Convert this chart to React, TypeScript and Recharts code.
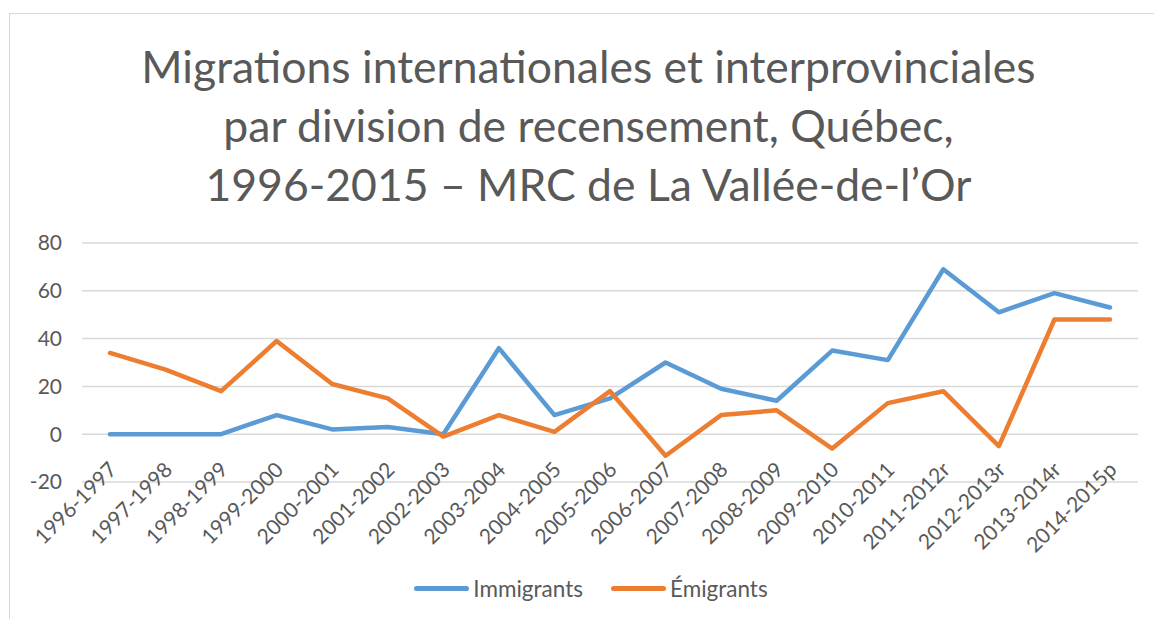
import React from "react";
import { LineChart, Line, XAxis, YAxis, CartesianGrid } from "recharts";

const PERIODS = [
  "1996-1997", "1997-1998", "1998-1999", "1999-2000", "2000-2001", "2001-2002",
  "2002-2003", "2003-2004", "2004-2005", "2005-2006", "2006-2007", "2007-2008",
  "2008-2009", "2009-2010", "2010-2011", "2011-2012r", "2012-2013r", "2013-2014r",
  "2014-2015p",
];
const IMMIGRANTS = [0, 0, 0, 8, 2, 3, 0, 36, 8, 15, 30, 19, 14, 35, 31, 69, 51, 59, 53];
const EMIGRANTS = [34, 27, 18, 39, 21, 15, -1, 8, 1, 18, -9, 8, 10, -6, 13, 18, -5, 48, 48];
const Y_TICKS = [-20, 0, 20, 40, 60, 80];
const TITLE_LINES = [
  "Migrations internationales et interprovinciales",
  "par division de recensement, Québec,",
  "1996-2015 – MRC de La Vallée-de-l’Or",
];

const BLUE = "#5B9BD5";
const ORANGE = "#ED7D31";
const TEXT = "#595959";
const FONT = "Lato, 'Open Sans', sans-serif";

const data = PERIODS.map((p, i) => ({ period: p, imm: IMMIGRANTS[i], emi: EMIGRANTS[i] }));

function SlantTick(props: any) {
  const { x, y, payload } = props;
  const ax = x + 8;
  const ay = y - 19;
  return (
    <text
      x={ax}
      y={ay}
      transform={`rotate(-45, ${ax}, ${ay})`}
      textAnchor="end"
      fill={TEXT}
      fontSize={21}
      fontFamily={FONT}
    >
      {payload.value}
    </text>
  );
}

function LegendRow() {
  const items = [
    { label: "Immigrants", color: BLUE },
    { label: "Émigrants", color: ORANGE },
  ];
  return (
    <div style={{ display: "flex", justifyContent: "center", gap: 28, fontFamily: FONT, fontSize: 22.5, color: TEXT }}>
      {items.map((it) => (
        <div key={it.label} style={{ display: "flex", alignItems: "center" }}>
          <span style={{ display: "inline-block", width: 55, height: 5, borderRadius: 3, background: it.color, marginRight: 4 }} />
          <span>{it.label}</span>
        </div>
      ))}
    </div>
  );
}

export default function App() {
  return (
    <div style={{ position: "absolute", left: 0, top: 0, width: 1154, height: 619, background: "#fff", overflow: "hidden" }}>
      <div
        style={{
          position: "absolute", left: 9, top: 13, width: 1160, height: 620,
          borderLeft: "1.5px solid #d9d9d9", borderTop: "1.5px solid #d9d9d9",
        }}
      />
      <div
        style={{
          position: "absolute", left: 0, top: 36, width: 1177, textAlign: "center",
          fontFamily: FONT, fontSize: 44.5, lineHeight: "59px", color: TEXT,
        }}
      >
        {TITLE_LINES.map((t) => (
          <div key={t}>{t}</div>
        ))}
      </div>
      <div style={{ position: "absolute", left: 0, top: 0 }}>
        <LineChart width={1154} height={619} data={data} margin={{ top: 243, right: 16, bottom: 57, left: 12 }}>
          <CartesianGrid vertical={false} stroke="#d9d9d9" strokeWidth={1.5} />
          <XAxis
            dataKey="period"
            interval={0}
            axisLine={false}
            tickLine={false}
            height={80}
            padding={{ left: 28, right: 28 }}
            tick={<SlantTick />}
          />
          <YAxis
            domain={[-20, 80]}
            ticks={Y_TICKS}
            width={70}
            axisLine={false}
            tickLine={false}
            tickMargin={14}
            tick={{ fill: TEXT, fontSize: 21, fontFamily: FONT }}
          />
          <Line dataKey="imm" name="Immigrants" stroke={BLUE} strokeWidth={4.5} dot={false} strokeLinejoin="round" strokeLinecap="round" isAnimationActive={false} />
          <Line dataKey="emi" name="Émigrants" stroke={ORANGE} strokeWidth={4.5} dot={false} strokeLinejoin="round" strokeLinecap="round" isAnimationActive={false} />
        </LineChart>
      </div>
      <div style={{ position: "absolute", left: 14, top: 575, width: 1154 }}>
        <LegendRow />
      </div>
    </div>
  );
}
